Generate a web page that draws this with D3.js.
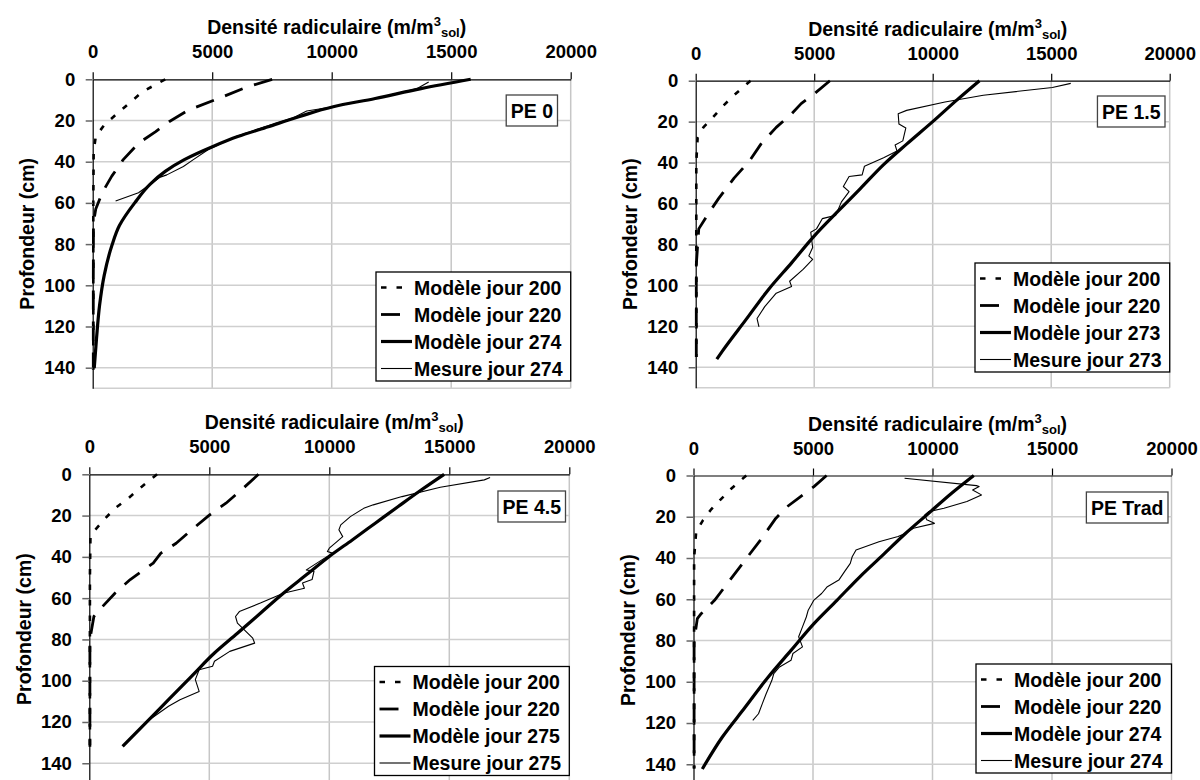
<!DOCTYPE html>
<html><head><meta charset="utf-8">
<script src="https://cdn.jsdelivr.net/npm/d3@7"></script>
<style>
body{margin:0;background:#fff;}
svg text{font-family:"Liberation Sans",Arial,sans-serif;font-weight:bold;fill:#000;}
</style>
</head><body>
<svg id="chart" width="1200" height="780"></svg>
<script>
// ---------- tick labels / texts ----------
const xTicks = [0, 5000, 10000, 15000, 20000];
const yTicks = [0, 20, 40, 60, 80, 100, 120, 140];
const xTitleMain = "Densité radiculaire (m/m";
const yTitle = "Profondeur (cm)";
const panelNames = ["PE 0", "PE 1.5", "PE 4.5", "PE Trad"];
const legendDays = [[200, 220, 274, 274], [200, 220, 273, 273], [200, 220, 275, 275], [200, 220, 274, 274]];

// ---------- data: [density (m/m3), depth (cm)] ----------
const pe0_model200 = [[3035,0],[2077,6.1],[1358,13.3],[958,17.3],[479,22.2],[128,27.8],[40,35],[25,60],[25,141]];
const pe0_model220 = [[7508,0],[6390,4],[5272,9.3],[3994,15],[3195,20.6],[2636,25.4],[1917,31],[1278,39],[799,47],[399,55],[128,63],[32,69.6],[25,100],[25,141]];
const pe0_model274 = [[15815,0],[13738,4.5],[11821,9.3],[10064,13.3],[8626,18.2],[7348,23],[6070,27.8],[5032,32.6],[3834,39],[3035,44.7],[2396,51],[1757,60],[1118,71],[799,80.8],[479,95.3],[288,109.7],[160,125.8],[64,140.2]];
const pe0_mesure274 = [[14058,1.3],[13578,4.5],[11821,9.3],[10064,13.3],[8954,15.4],[8396,18.7],[7280,22.8],[6025,27.6],[4840,34.1],[4212,39],[3794,42.3],[3100,46.4],[2800,47.6],[2900,46.8],[1917,55.1],[958,59.1]];

const pe15_model200 = [[2314,0],[1618,7.1],[1133,12.6],[728,17.9],[324,22.8],[81,27.8],[25,40],[25,135]];
const pe15_model220 = [[5663,0],[5016,6.3],[4450,11.2],[4045,16.2],[3398,22.8],[2751,31],[2265,39.3],[1618,47.6],[971,57.5],[485,65.8],[129,72.4],[25,90],[25,135]];
const pe15_model273 = [[11974,0],[11003,9.6],[10000,20],[8900,31],[7929,41],[6958,52.6],[5987,64],[5016,75.7],[4045,89],[3074,102],[2104,117],[1133,132],[890,136]];
const pe15_mesure273 = [[15825,1.3],[15049,3.3],[12136,7.1],[10518,10.4],[8900,14.5],[8544,16.2],[8576,21.2],[8867,23.1],[8738,29.4],[8414,31.4],[8495,34.4],[7929,37.7],[7120,41.8],[7023,46],[6472,46.8],[6230,51.7],[6472,54.2],[6149,59.2],[5906,65.8],[5340,67.4],[5097,72.4],[4854,74],[4935,81.5],[4773,85.6],[4935,87.3],[4531,92.2],[3964,98],[4045,100.5],[3398,103.8],[2913,110.4],[2589,116.2],[2670,120.3]];

const pe45_model200 = [[2823,0],[2185,6],[1627,11.6],[1069,16.5],[670,21.3],[239,27],[48,30],[25,50],[25,132]];
const pe45_model220 = [[7049,0],[6332,7.6],[5694,14],[4976,20],[4258,27],[3620,33.4],[2982,38.2],[2663,43],[1707,51],[1069,57.6],[431,65.6],[191,68.9],[25,80],[25,132]];
const pe45_model275 = [[14785,0],[13828,7.6],[12871,15.6],[11914,23.7],[10957,31.8],[10000,39.8],[9043,48.7],[8086,57.6],[7129,67.3],[6172,77],[5215,86.6],[4258,97.9],[3301,109.2],[2344,120.5],[1388,131.8]];
const pe45_mesure275 = [[16699,1.5],[16459,2.7],[14625,6.3],[13030,10.8],[11834,14.8],[11435,16.5],[10877,20.5],[10478,24.5],[10399,26.9],[10558,30.2],[10319,32.6],[10000,35.8],[9920,37.4],[10128,38.2],[9043,46.3],[9362,47],[9282,51],[8884,52.7],[8963,55.2],[8086,57.6],[7129,62.4],[6252,66.5],[6093,68.9],[6172,72.1],[6810,79.4],[6890,81.8],[5853,85.8],[5215,90.6],[5136,93],[4577,94.7],[4418,99.5],[4577,105.2],[3780,109.2],[3301,112.4],[2504,118.9]];

const petrad_model200 = [[2208,0],[1600,6.2],[1120,11.8],[720,16.7],[400,21.6],[112,27.2],[25,40],[25,142]];
const petrad_model220 = [[5568,0],[5040,5.4],[4480,10.2],[3920,15.1],[3440,20.8],[2800,31.3],[2160,41],[1520,50.8],[880,60.5],[320,67],[160,69.4],[25,80],[25,142]];
const petrad_model274 = [[11728,0],[10800,8.6],[9840,18.3],[8880,28],[7920,38.6],[6960,49.1],[6000,60.5],[5040,71.8],[4080,84.8],[3120,97.8],[2160,112.4],[1200,126.9],[368,142.3]];
const petrad_mesure274 = [[8832,1.3],[11840,4.9],[11952,5.3],[11680,7],[12048,9.4],[11440,12.6],[10480,15.9],[9840,17.5],[9680,19.1],[9760,21.5],[10080,23.2],[9200,25.6],[8880,28],[8560,29.6],[7760,32.1],[6800,36.1],[6640,39.4],[6560,42.6],[6320,46.6],[6080,50.7],[5600,53.9],[5360,57.2],[5040,60.4],[4800,65.3],[4720,68.6],[4560,73.4],[4400,78.2],[4560,83.1],[4160,86.3],[4080,89.6],[3600,92.8],[3360,96],[3280,99.3],[3040,105.8],[2880,110.6],[2720,115.5],[2480,118.7]];

// ---------- layout ----------
const layouts = [
  {left: 92.7, top: 79.3, w: 478, h: 309, legL: 376, legT: 272, boxR: 557.5, boxT: 95},
  {left: 695.7, top: 80.7, w: 474, h: 307, legL: 975, legT: 263, boxR: 1165, boxT: 96},
  {left: 89.3, top: 474.3, w: 480, h: 309.6, legL: 374.5, legT: 666.5, boxR: 565.5, boxT: 491},
  {left: 693.5, top: 475.5, w: 478, h: 309.4, legL: 976, legT: 664, boxR: 1168, boxT: 492}
];
const seriesSets = [
  [pe0_model200, pe0_model220, pe0_model274, pe0_mesure274],
  [pe15_model200, pe15_model220, pe15_model273, pe15_mesure273],
  [pe45_model200, pe45_model220, pe45_model275, pe45_mesure275],
  [petrad_model200, petrad_model220, petrad_model274, petrad_mesure274]
];
const styles = [
  {w: 2.6, dash: "5.5,10", smooth: false},
  {w: 2.8, dash: "19,12", smooth: false},
  {w: 3.2, dash: null, smooth: true},
  {w: 1.1, dash: null, smooth: false}
];
const labelPrefix = ["Modèle jour ", "Modèle jour ", "Modèle jour ", "Mesure jour "];

const svg = d3.select("#chart");
const TICK_FS = 18.5, TITLE_FS = 19.5, LEG_FS = 19.5;

layouts.forEach((L, i) => {
  const x = d3.scaleLinear().domain([0, 20000]).range([L.left, L.left + L.w]);
  const y = d3.scaleLinear().domain([0, 150]).range([L.top, L.top + L.h]);
  const g = svg.append("g");

  // gridlines
  g.append("g").selectAll("line").data(xTicks.slice(1)).join("line")
    .attr("x1", d => x(d)).attr("x2", d => x(d)).attr("y1", y(0)).attr("y2", y(150))
    .attr("stroke", "#c6c6c6").attr("stroke-width", 1.5);
  g.append("g").selectAll("line").data(yTicks.slice(1).concat([150])).join("line")
    .attr("x1", x(0)).attr("x2", x(20000)).attr("y1", d => y(d)).attr("y2", d => y(d))
    .attr("stroke", "#cfcfcf").attr("stroke-width", 1.5);

  // curves
  seriesSets[i].forEach((s, k) => {
    const line = d3.line().x(d => x(d[0])).y(d => y(d[1]))
      .curve(styles[k].smooth ? d3.curveMonotoneY : d3.curveLinear);
    g.append("path").datum(s).attr("d", line)
      .attr("fill", "none").attr("stroke", "#000")
      .attr("stroke-width", styles[k].w)
      .attr("stroke-dasharray", styles[k].dash)
      .attr("stroke-linejoin", "round");
  });

  // top axis
  const ax = g.append("g").attr("transform", `translate(0,${L.top})`)
    .call(d3.axisTop(x).tickValues(xTicks).tickFormat(d3.format("d")).tickSize(7).tickPadding(14).tickSizeOuter(0));
  ax.select(".domain").attr("stroke", "#000").attr("stroke-width", 1.2);
  ax.selectAll(".tick line").attr("stroke", "#000").attr("stroke-width", 1.2);
  ax.selectAll("text").attr("font-size", TICK_FS).attr("font-family", null);

  // left axis
  const ay = g.append("g").attr("transform", `translate(${L.left},0)`)
    .call(d3.axisLeft(y).tickValues(yTicks).tickSize(7).tickPadding(10.5).tickSizeOuter(0));
  ay.select(".domain").attr("stroke", "#000").attr("stroke-width", 1.2);
  ay.selectAll(".tick line").attr("stroke", "#666").attr("stroke-width", 1.5);
  ay.selectAll("text").attr("font-size", TICK_FS).attr("font-family", null);

  // x title
  const t = g.append("text").attr("x", L.left + L.w / 2 + 5).attr("y", L.top - 45)
    .attr("text-anchor", "middle").attr("font-size", TITLE_FS);
  t.append("tspan").text(xTitleMain);
  t.append("tspan").text("3").attr("font-size", 13).attr("dy", -8);
  t.append("tspan").text("sol").attr("font-size", 13).attr("dy", 11);
  t.append("tspan").text(")").attr("dy", -3);

  // y title
  g.append("text").attr("transform", `translate(${L.left - 58.5},${L.top + L.h / 2}) rotate(-90)`)
    .attr("text-anchor", "middle").attr("font-size", TITLE_FS).text(yTitle);

  // panel name box
  const boxG = g.append("g");
  const boxRect = boxG.append("rect");
  const bt = boxG.append("text").attr("font-size", TITLE_FS).attr("text-anchor", "end")
    .attr("x", L.boxR - 4.5).attr("y", L.boxT + 22.5).text(panelNames[i]);
  const tw = bt.node().getComputedTextLength();
  boxRect.attr("x", L.boxR - tw - 9).attr("y", L.boxT).attr("width", tw + 9).attr("height", 31)
    .attr("fill", "#fff").attr("stroke", "#444").attr("stroke-width", 1.3);

  // legend
  const lg = g.append("g");
  lg.append("rect").attr("x", L.legL).attr("y", L.legT)
    .attr("width", L.left + L.w - L.legL).attr("height", 109)
    .attr("fill", "#fff").attr("stroke", "#000").attr("stroke-width", 1.3);
  legendDays[i].forEach((day, k) => {
    const cy = L.legT + 15.5 + k * 27;
    lg.append("line").attr("x1", L.legL + 5).attr("x2", L.legL + 36)
      .attr("y1", cy).attr("y2", cy).attr("stroke", "#000")
      .attr("stroke-width", styles[k].w).attr("stroke-dasharray", styles[k].dash);
    lg.append("text").attr("x", L.legL + 38).attr("y", cy + 7)
      .attr("font-size", LEG_FS).text(labelPrefix[k] + day);
  });
});
</script>
</body></html>
